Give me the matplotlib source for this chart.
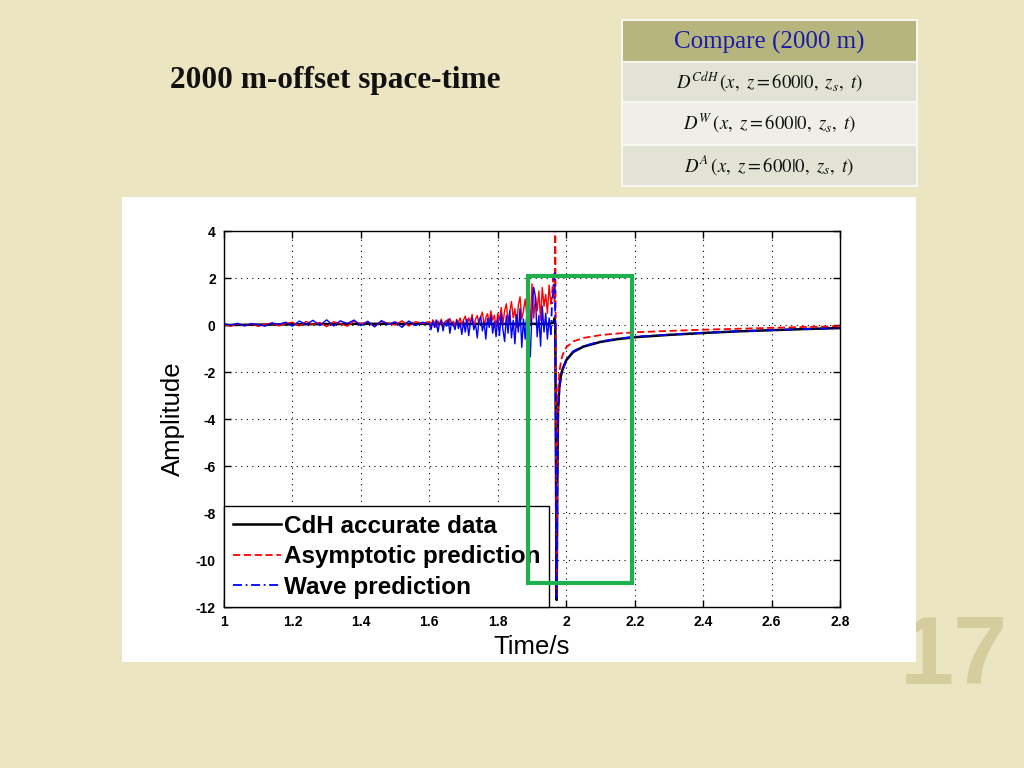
import numpy as np
import matplotlib
matplotlib.use('Agg')
import matplotlib.pyplot as plt
import matplotlib.patches as mpatches

plt.rcParams['axes.unicode_minus'] = False
plt.rcParams['mathtext.fontset'] = 'stix'

# ---- data ----
# noisy pre-arrival part (red / blue share the same sample times)
t_early = [1.00, 1.02, 1.04, 1.06, 1.08, 1.10, 1.12, 1.14, 1.16, 1.18,
           1.20, 1.22, 1.24, 1.26, 1.28, 1.30, 1.32, 1.34, 1.36, 1.38,
           1.40, 1.42, 1.44, 1.46, 1.48, 1.50, 1.52, 1.54, 1.56, 1.58]
t_late = [1.600, 1.605, 1.610, 1.615, 1.620, 1.625, 1.630, 1.635, 1.640, 1.645,
          1.650, 1.655, 1.660, 1.665, 1.670, 1.675, 1.680, 1.685, 1.690, 1.695,
          1.700, 1.705, 1.710, 1.715, 1.720, 1.725, 1.730, 1.735, 1.740, 1.745,
          1.750, 1.755, 1.760, 1.765, 1.770, 1.775, 1.780, 1.785, 1.790, 1.795,
          1.800, 1.805, 1.810, 1.815, 1.820, 1.825, 1.830, 1.835, 1.840, 1.845,
          1.850, 1.855, 1.860, 1.865, 1.870, 1.875, 1.880, 1.885, 1.890, 1.895,
          1.900, 1.905, 1.910, 1.915, 1.920, 1.925, 1.930, 1.935, 1.940, 1.945,
          1.950, 1.955]

red_early = [0.02, -0.05, 0.06, -0.03, 0.05, -0.06, 0.04, 0.08, -0.04, 0.07,
             0.12, -0.04, 0.15, 0.02, 0.11, -0.07, 0.14, 0.06, -0.05, 0.16,
             0.05, 0.13, -0.06, 0.15, 0.08, 0.00, 0.18, -0.04, 0.14, 0.07]
red_late = [0.15, -0.05, 0.22, 0.08, -0.10, 0.18, 0.02, 0.25, -0.06, 0.12,
            0.20, -0.02, 0.28, 0.05, 0.16, -0.08, 0.24, 0.10, 0.30, 0.00,
            0.22, 0.38, -0.05, 0.30, 0.12, 0.45, -0.10, 0.25, 0.40, 0.05,
            0.35, 0.55, -0.02, 0.30, 0.48, 0.10, 0.60, 0.20, 0.42, -0.08,
            0.50, 0.20, 0.75, 0.05, 0.62, 0.90, 0.15, 0.55, 1.00, 0.30,
            0.70, -0.10, 0.85, 1.20, 0.25, 0.60, 1.10, 0.40, 0.95, 0.10,
            1.75, 0.30, 1.20, 0.60, 1.45, 0.20, 1.60, 0.80, 1.30, 0.50,
            1.70, 0.90]

blue_early = [0.05, 0.00, 0.07, -0.04, 0.06, 0.02, -0.05, 0.09, 0.03, 0.12,
              -0.05, 0.17, 0.02, 0.20, -0.02, 0.22, -0.04, 0.18, 0.06, 0.21,
              -0.03, 0.16, -0.08, 0.19, 0.02, 0.14, -0.10, 0.17, -0.02, 0.12]
blue_late = [0.05, -0.20, 0.15, -0.10, 0.22, -0.30, 0.08, 0.18, -0.25, 0.10,
             -0.05, 0.25, -0.35, 0.12, 0.02, -0.20, 0.20, -0.15, 0.08, -0.40,
             0.15, -0.30, 0.25, -0.45, 0.10, 0.30, -0.20, 0.05, -0.55, 0.20,
             0.35, -0.25, 0.12, -0.60, 0.28, -0.10, 0.40, -0.35, 0.15, -0.50,
             0.30, -0.45, 0.50, -0.20, -0.70, 0.40, -0.35, 0.60, -0.55, 0.20,
             -0.80, 0.45, -0.30, 0.70, -0.95, 0.25, -0.60, 0.55, -0.40, -1.35,
             0.60, 1.60, 1.20, -0.50, 0.40, -0.90, 0.80, -0.30, 0.50, -0.60,
             0.30, -0.40]

# arrival and tail
red_t_tail = [1.955, 1.958, 1.962, 1.966, 1.968, 1.970, 1.972, 1.974, 1.976, 1.980,
              1.985, 1.990, 2.00, 2.02, 2.05, 2.10, 2.15, 2.20, 2.30, 2.40,
              2.50, 2.60, 2.70, 2.80]
red_tail = [0.90, 1.2, 2.0, 1.0, 4.8, -4.0, -11.5, -5.0, -2.8, -2.0,
            -1.5, -1.25, -0.95, -0.70, -0.55, -0.43, -0.36, -0.31, -0.25, -0.20,
            -0.16, -0.12, -0.08, -0.05]

blue_t_tail = [1.955, 1.958, 1.962, 1.966, 1.968, 1.970, 1.972, 1.974, 1.976, 1.980,
               1.985, 1.990, 2.00, 2.02, 2.05, 2.10, 2.15, 2.20, 2.30, 2.40,
               2.50, 2.60, 2.70, 2.80]
blue_tail = [-0.40, 0.8, 1.4, 2.2, 0.0, -6.0, -11.6, -7.0, -4.0, -2.7,
             -2.2, -1.9, -1.5, -1.12, -0.90, -0.70, -0.58, -0.50, -0.41, -0.33,
             -0.27, -0.22, -0.17, -0.13]

black_t = [1.00, 1.20, 1.40, 1.60, 1.80, 1.90, 1.95, 1.962, 1.966, 1.968,
           1.970, 1.972, 1.974, 1.976, 1.980, 1.985, 1.990, 2.00, 2.02, 2.05,
           2.10, 2.15, 2.20, 2.30, 2.40, 2.50, 2.60, 2.70, 2.80]
black_v = [0.0, 0.03, 0.05, 0.05, 0.05, 0.05, 0.05, 0.1, 0.3, 0.0,
           -6.0, -11.7, -6.5, -3.6, -2.6, -2.1, -1.85, -1.5, -1.15, -0.92,
           -0.72, -0.60, -0.52, -0.42, -0.34, -0.27, -0.22, -0.17, -0.13]

legend_labels = ['CdH accurate data', 'Asymptotic prediction', 'Wave prediction']
table_rows = [r'$D^{CdH}\,(x,\ z = 600|0,\ z_s,\ t)$',
              r'$D^{W}\,(x,\ z = 600|0,\ z_s,\ t)$',
              r'$D^{A}\,(x,\ z = 600|0,\ z_s,\ t)$']

BG = '#ece5c1'
RED_DASH = (0, (4, 2))
BLUE_DASHDOT = (0, (5, 2, 1, 2))

fig = plt.figure(figsize=(10.24, 7.68), dpi=100)
fig.patch.set_facecolor(BG)

# slide number, partly behind the white panel
fig.text(0.932, 0.142, '17', fontsize=70, fontweight='bold', color='#d6cd9f',
         ha='center', va='center', family='Liberation Sans', zorder=0)

# white panel holding the MATLAB figure
fig.patches.append(mpatches.Rectangle((0.1191, 0.138), 0.7754, 0.6055,
                                      transform=fig.transFigure, facecolor='white',
                                      edgecolor='none', zorder=1))

# slide title
fig.text(0.166, 0.895, '2000 m-offset space-time', fontsize=22.5, fontweight='bold',
         family='Liberation Serif', color='#111111', ha='left', va='center')

# comparison table
tx, tw = 0.6074, 0.2881
rows_y = [(0.919, 0.055, '#b6b57d'), (0.867, 0.052, '#e2e3d5'),
          (0.811, 0.056, '#efefe7'), (0.758, 0.053, '#e2e3d5')]
for y0, h, col in rows_y:
    fig.patches.append(mpatches.Rectangle((tx, y0), tw, h, transform=fig.transFigure,
                                          facecolor=col, edgecolor='#f7f7f2', lw=1.5,
                                          zorder=2))
fig.text(tx + tw / 2, 0.945, 'Compare (2000 m)', fontsize=18, family='Liberation Serif',
         color='#1c1caa', ha='center', va='center', zorder=3)
for (y0, h, _), s in zip(rows_y[1:], table_rows):
    fig.text(tx + tw / 2, y0 + h / 2, s, fontsize=13.5, color='#111111',
             ha='center', va='center', zorder=3)

# ---- the plot ----
ax = fig.add_axes([0.21875, 0.2096, 0.6016, 0.4896], zorder=4)
ax.set_facecolor('white')

ax.plot(black_t, black_v, color='black', lw=1.8, label=legend_labels[0])
# dense noisy sections look solid in the original
ax.plot(t_early + t_late, red_early + red_late, color='red', lw=1.0)
ax.plot(red_t_tail, red_tail, color='red', lw=1.3, ls=RED_DASH, label=legend_labels[1])
ax.plot(t_early + t_late, blue_early + blue_late, color='blue', lw=1.0)
ax.plot(blue_t_tail, blue_tail, color='blue', lw=1.3, ls=BLUE_DASHDOT,
        label=legend_labels[2])

ax.set_xlim(1, 2.8)
ax.set_ylim(-12, 4)
ax.set_xticks([1, 1.2, 1.4, 1.6, 1.8, 2, 2.2, 2.4, 2.6, 2.8])
ax.set_xticklabels(['1', '1.2', '1.4', '1.6', '1.8', '2', '2.2', '2.4', '2.6', '2.8'])
ax.set_yticks([4, 2, 0, -2, -4, -6, -8, -10, -12])
ax.tick_params(direction='in', length=5, width=1, labelsize=10, top=True, right=True, pad=6)
for lbl in ax.get_xticklabels() + ax.get_yticklabels():
    lbl.set_fontweight('bold')
    lbl.set_family('Liberation Sans')
ax.grid(True, color='black', ls=(0, (1, 4)), lw=0.8)
for sp in ax.spines.values():
    sp.set_linewidth(1)
ax.set_xlabel('Time/s', fontsize=18.5, family='Liberation Sans', labelpad=4)
ax.set_ylabel('Amplitude', fontsize=18.5, family='Liberation Sans', labelpad=8)

leg = ax.legend(loc='lower left', bbox_to_anchor=(0, 0), borderaxespad=0,
                fancybox=False, framealpha=1, edgecolor='black',
                prop={'family': 'Liberation Sans', 'weight': 'bold', 'size': 17.5},
                handlelength=2.0, handletextpad=0.1, labelspacing=0.3,
                borderpad=0.35)
leg.get_frame().set_linewidth(1)

# green highlight box drawn over the slide
ax.add_patch(mpatches.Rectangle((1.889, -10.98), 0.303, 13.07, fill=False,
                                edgecolor='#1db04f', lw=3, clip_on=False, zorder=10))

fig.savefig('out.png', dpi=100, facecolor=fig.get_facecolor())
